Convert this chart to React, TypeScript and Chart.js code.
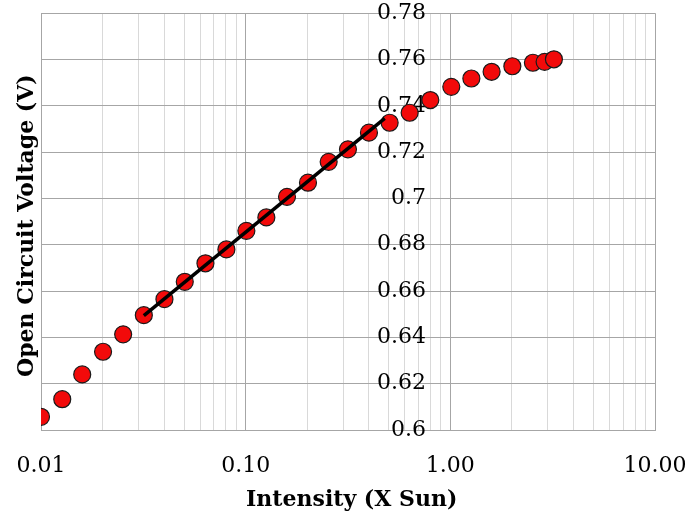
import React, { useEffect, useRef } from 'react';
import { Chart, registerables } from 'chart.js';

Chart.register(...registerables);

// ---- data ----
const intensity = [0.01, 0.0127, 0.0159, 0.0201, 0.0252, 0.0318, 0.0401, 0.0504, 0.0636, 0.0805, 0.1008, 0.1262, 0.1592, 0.2016, 0.2544, 0.3161, 0.4003, 0.5052, 0.6328, 0.7985, 1.011, 1.267, 1.591, 2.009, 2.532, 2.888, 3.207];
const voc = [0.6057, 0.6133, 0.624, 0.6338, 0.6413, 0.6496, 0.6565, 0.664, 0.672, 0.678, 0.686, 0.6918, 0.7007, 0.7068, 0.7158, 0.7212, 0.7284, 0.7327, 0.737, 0.7425, 0.7482, 0.7518, 0.7547, 0.7571, 0.7586, 0.759, 0.7601];
const fitIntensity = [0.0318, 0.478];
const fitVoc = [0.6494, 0.7346];
const xDecades = [0.01, 0.1, 1, 10];
const xMinorMultipliers = [2, 3, 4, 5, 6, 7, 8, 9];
const yTicks = [0.6, 0.62, 0.64, 0.66, 0.68, 0.7, 0.72, 0.74, 0.76, 0.78];
const xTitle = 'Intensity (X Sun)';
const yTitle = 'Open Circuit Voltage (V)';
// x value at which the y tick labels end (labels sit just left of the x = 1 line)
const yLabelAnchorX = 0.76;

const FONT = '"DejaVu Serif", serif';
const MAJOR_GRID = '#A6A6A6';
const MINOR_GRID = '#D9D9D9';

function buildXTicks() {
  const out: { value: number; major: boolean }[] = [];
  xDecades.forEach((d, i) => {
    out.push({ value: d, major: true });
    if (i < xDecades.length - 1) {
      xMinorMultipliers.forEach((m) => out.push({ value: parseFloat((d * m).toPrecision(6)), major: false }));
    }
  });
  return out;
}

const titlePlugin = {
  id: 'axisTitles',
  afterDraw(chart: any) {
    const { ctx, chartArea: a } = chart;
    ctx.save();
    ctx.fillStyle = '#000';
    ctx.font = `bold 22px ${FONT}`;
    ctx.textAlign = 'center';
    ctx.textBaseline = 'middle';
    ctx.fillText(xTitle, a.left + (a.right - a.left) * 0.506, 500);
    ctx.translate(27, (a.top + a.bottom) / 2 + 4);
    ctx.rotate(-Math.PI / 2);
    ctx.fillText(yTitle, 0, 0);
    ctx.restore();
  },
};

export default function App() {
  const ref = useRef<HTMLCanvasElement | null>(null);
  useEffect(() => {
    document.body.style.margin = '0';
    const canvas = ref.current;
    if (!canvas) return;
    const chart = new Chart(canvas, {
      type: 'scatter',
      data: {
        datasets: [
          {
            type: 'line',
            label: 'fit',
            data: fitIntensity.map((x, i) => ({ x, y: fitVoc[i] })),
            borderColor: '#000',
            borderWidth: 3.5,
            pointRadius: 0,
            fill: false,
            order: 0,
          } as any,
          {
            label: 'Voc',
            data: intensity.map((x, i) => ({ x, y: voc[i] })),
            backgroundColor: '#F20A0A',
            borderColor: '#1a1a1a',
            borderWidth: 1.2,
            pointRadius: 8.5,
            order: 1,
          },
        ],
      },
      plugins: [titlePlugin],
      options: {
        animation: false,
        responsive: false,
        events: [],
        layout: { padding: { left: 41, right: 33, top: 13, bottom: 0 } },
        plugins: { legend: { display: false }, tooltip: { enabled: false } },
        scales: {
          x: {
            type: 'logarithmic',
            position: 'bottom',
            min: 0.01,
            max: 10,
            afterBuildTicks: (scale: any) => {
              scale.ticks = buildXTicks();
            },
            afterFit: (scale: any) => {
              scale.height = 89;
            },
            grid: {
              color: (c: any) => (c.tick && c.tick.major ? MAJOR_GRID : MINOR_GRID),
              lineWidth: 1,
              drawTicks: true,
              tickLength: 23,
              tickColor: 'rgba(0,0,0,0)',
            },
            border: { color: MAJOR_GRID },
            ticks: {
              autoSkip: false,
              maxRotation: 0,
              padding: 0,
              color: '#000',
              font: { family: FONT, size: 22 },
              callback: (value: any, index: number, ticks: any[]) =>
                ticks[index] && ticks[index].major ? Number(value).toFixed(2) : '',
            },
          },
          y: {
            type: 'linear',
            position: { x: yLabelAnchorX } as any,
            min: 0.6,
            max: 0.78,
            afterBuildTicks: (scale: any) => {
              scale.ticks = yTicks.map((v) => ({ value: v }));
            },
            grid: { color: MAJOR_GRID, lineWidth: 1, drawTicks: false },
            border: { display: false },
            ticks: {
              padding: 0,
              color: '#000',
              font: { family: FONT, size: 22 },
              callback: (value: any) => String(Number(Number(value).toFixed(2))),
            },
          },
        },
      },
    });
    return () => chart.destroy();
  }, []);
  return <canvas ref={ref} width={688} height={519} style={{ display: 'block' }} />;
}
